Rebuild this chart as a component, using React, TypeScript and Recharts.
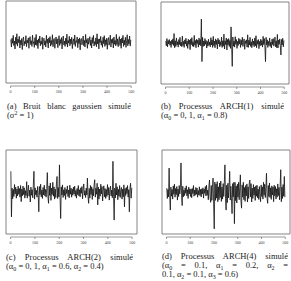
import React from "react";
import { LineChart, Line, XAxis, YAxis, ReferenceArea } from "recharts";

// simulated series, read every 2.5 steps (t = 1, 3.5, 6, ... 498.5)
const whiteNoise = [
  0.8, -1.6, 1.2, -0.4, 2.1, -1.1, 0.3, -2.2, 1.5, -0.7, 2.6, -1.3, 0.9, -0.2, 1.8, -1.9, 0.5, -0.9, 1.1, -2.4,
  0.7, 1.6, -1.2, 0.2, -0.6, 2.0, -1.5, 0.6, -0.3, 1.3, -2.0, 0.9, 1.7, -0.8, 0.4, -1.4, 2.2, -0.5, 0.1, -1.7,
  1.4, -0.9, 2.4, -1.1, 0.6, -2.1, 1.0, -0.3, 1.9, -1.2, 0.3, -0.7, 1.5, -2.3, 0.8, 1.2, -1.0, 0.4, -1.6, 2.1,
  -0.4, 0.9, -1.9, 1.3, -0.2, 1.7, -1.3, 0.5, -0.8, 2.3, -1.5, 0.7, 1.1, -2.0, 0.2, 1.6, -0.6, 1.0, -1.8, 0.4,
  2.0, -1.1, 0.8, -0.5, 1.4, -2.2, 0.6, 1.9, -0.9, 0.3, -1.4, 1.2, -0.7, 2.5, -1.6, 0.5, -0.3, 1.8, -1.2, 0.9,
  -0.6, 1.5, -2.1, 0.3, 1.0, -0.8, 2.2, -1.4, 0.4, -0.1, 1.6, -1.8, 0.9, -0.5, 1.3, -2.5, 0.7, 1.1, -0.9, 0.2,
  1.9, -1.2, 0.5, -1.6, 2.4, -0.3, 0.8, -2.0, 1.2, -0.7, 0.3, 1.7, -1.1, 0.6, -1.9, 1.4, -0.4, 2.1, -1.3, 0.1,
  -0.8, 1.3, -1.5, 2.6, -0.6, 0.9, -2.2, 1.0, -0.2, 1.8, -1.0, 0.4, -1.7, 1.5, -0.5, 2.0, -1.4, 0.7, -0.9, 1.2,
  -2.3, 0.6, 1.4, -1.0, 0.2, 2.2, -1.6, 0.8, -0.4, 1.1, -1.9, 1.6, -0.7, 0.5, -1.2, 2.4, -0.8, 1.0, -1.5, 0.3,
  1.7, -1.1, 0.9, -2.0, 1.3, -0.3, 2.1, -1.4, 0.6, -0.9, 1.5, -1.7, 0.4, 2.3, -1.2, 0.8, -0.6, 1.9, -1.3, 0.7,
];

const arch1 = [
  0.6, -0.9, 1.4, -1.2, 0.8, -0.3, 1.1, -0.7, 0.5, -1.4, 0.9, -0.4, 1.3, -0.8, 3.0, -1.5, 0.7, -1.1, 1.6, -0.6,
  0.4, -1.3, 1.1, -0.5, 1.8, -0.9, 0.3, -1.2, 2.2, -0.8, 0.5, -1.4, 1.0, -0.3, 1.5, -1.0, 0.6, -1.7, 1.2, -0.4,
  0.9, -2.1, 1.3, -0.5, 1.7, -1.0, 0.4, -1.2, 2.4, -0.7, 0.8, -1.5, 1.2, -0.2, 0.9, -1.3, 1.6, -0.6, 1.1, -0.9,
  7.6, -5.9, 1.8, -1.1, 0.6, -0.9, 1.4, -0.4, 0.8, -1.6, 0.5, -1.0, 1.2, -0.7, 0.3, -1.2, 1.7, -0.6, 1.0, -1.4,
  2.1, -0.8, 0.6, -1.5, 1.3, -0.5, 0.9, -1.9, 1.5, -0.3, 1.0, -1.2, 0.4, -0.8, 1.9, -1.4, 0.7, -1.0, 2.8, -1.9,
  0.7, -0.5, 1.6, -2.2, 1.1, -0.6, 1.4, -1.1, 0.8, -1.7, 5.1, -1.0, -7.4, 1.9, -1.0, 0.6, -1.3, 2.0, -0.4, 1.1,
  -1.7, 0.5, -0.8, 1.5, -0.3, 1.2, -1.4, 0.9, -0.6, 1.8, -1.1, 0.4, 1.3, -2.0, 0.7, -0.2, 1.0, -1.3, 2.6, -1.4,
  0.9, -0.6, 1.8, -1.1, 0.4, -1.5, 1.3, -0.7, 0.6, -1.2, 1.6, -0.9, 2.3, -1.5, 0.8, -0.4, 1.1, -1.8, 0.5, -0.9,
  1.2, -0.7, 0.8, -1.3, 2.1, -0.5, 1.4, -1.0, -5.9, 1.8, -0.6, 1.0, -1.4, 0.5, -0.8, 1.6, -1.1, 0.3, -1.6, 1.2,
  -0.5, 1.4, -1.0, 0.3, 1.9, -1.2, 0.7, -1.5, 2.7, -1.6, 0.9, -0.4, 1.3, -0.8, -3.8, 1.1, -0.6, 1.5, -1.2, 0.8,
];

const arch2 = [
  6.4, -7.7, 1.2, -2.1, 0.8, -1.4, 2.3, -0.6, 1.5, -1.9, 0.9, -1.2, 1.8, -0.7, 1.1, -1.6, 2.0, -3.0, 0.9, -1.2,
  1.8, -0.8, 1.3, -1.9, 0.4, -1.1, 3.2, -1.9, 0.4, 2.1, -1.3, 0.6, -3.1, 1.5, -1.0, 0.7, -1.8, 2.2, 6.4, -2.2,
  1.3, -0.9, 0.5, -1.6, 1.7, -0.8, -6.1, 1.7, -0.8, 2.4, -1.5, 0.6, -2.0, 1.4, -0.9, 2.1, -1.2, 0.8, -1.6, 1.0,
  6.0, -1.4, -3.5, 1.9, -1.1, 2.8, -2.6, 1.2, -0.8, 3.0, -1.3, 1.6, -2.2, 0.9, -1.7, 2.5, 4.8, -2.0, 1.4, -1.5,
  8.4, -1.8, -8.2, 1.6, -0.9, 2.2, -1.7, 0.7, -1.1, 1.4, -2.3, 0.8, -0.5, 1.9, -1.4, 0.6, -1.8, 2.1, -0.7, 1.2,
  -1.6, 0.9, -1.0, 1.5, -0.6, 1.8, -1.3, 0.5, -1.9, 1.1, -0.8, 2.0, -1.2, 0.7, -1.5, 1.3, -0.4, 1.7, -2.1, 0.9,
  2.5, -1.0, 0.4, -1.7, 1.2, -0.9, 4.3, -1.4, -3.5, 1.1, -1.9, 2.0, -0.8, 1.6, -2.3, 1.0, -1.2, 2.2, 3.8, -1.6,
  1.2, -0.7, 2.7, -4.0, 1.5, -2.2, 0.9, -1.3, 2.4, -0.6, 1.7, -2.8, 0.5, 1.9, -1.5, 1.1, -2.0, 0.8, -1.4, 2.3,
  -0.9, 1.4, -2.5, 0.7, 1.8, -1.2, 0.6, -1.8, 9.5, -1.4, -8.7, 1.2, -1.8, 2.7, -0.9, 1.6, -2.4, 0.8, -1.3, 2.0,
  -1.7, 0.6, 1.4, -2.2, 0.9, -1.5, 2.2, -4.6, 1.1, -1.1, 1.4, -0.5, 2.0, -1.6, 0.7, -6.1, 1.0, 2.7, -1.9, 1.3,
];

const arch4 = [
  1.2, -2.0, 0.8, -1.5, 7.4, -1.0, -5.6, 1.5, -1.3, 0.8, -2.2, 1.9, -0.7, 2.4, -1.6, 1.1, -0.8, 1.7, -2.5, 0.9,
  -1.4, 2.0, -0.6, 1.3, 9.0, -1.2, -4.2, 1.8, -1.5, 0.6, -1.1, 1.3, -0.4, 1.9, -1.2, 0.7, -2.0, 1.5, -0.6, 1.0,
  -1.4, 0.9, -1.8, 1.1, -0.5, 2.0, -1.3, 0.6, -1.0, 1.4, -0.7, 1.2, -1.6, 0.5, -0.9, 1.6, -1.1, 0.8, -1.5, 1.0,
  -0.6, 1.3, -1.9, 0.9, -0.4, 1.7, -1.2, 2.1, -1.0, 0.6, -2.4, 1.8, 3.7, -1.5, -3.2, 2.0, -2.6, 1.4, 4.3, -4.0,
  -11.4, 3.1, -2.6, 2.5, -1.9, 3.2, -3.0, 1.6, -2.4, 2.8, -1.7, 3.4, -2.9, 1.5, -2.2, 2.6, -1.4, 3.0, 8.4, -2.1,
  -5.6, 2.1, -3.3, 2.7, -1.8, 1.9, 6.4, -2.5, 1.8, -2.0, -6.7, 2.6, -1.5, 3.0, -9.8, 3.0, -2.7, 1.8, -3.4, 2.4,
  -1.6, 3.0, -2.4, 1.4, 5.3, -2.9, -5.0, 2.2, -1.6, 3.0, -2.4, 1.4, -2.9, 2.0, -1.2, 2.5, -3.1, 1.6, -2.0, 2.8,
  3.7, -1.5, 2.6, -3.1, 1.2, -2.0, 2.3, -1.0, 1.5, -2.6, 1.9, -1.3, 2.1, -1.8, 0.9, -2.3, 1.7, -1.1, -3.0, 2.2,
  -1.4, 1.6, -2.2, 3.0, -1.0, 2.4, -1.7, 1.2, 5.8, -1.9, -3.5, 2.0, -1.4, 2.8, -1.7, 1.3, -2.3, 1.9, -0.9, 1.5,
  -3.0, 2.1, -1.2, 1.7, -2.2, 1.0, -1.6, 2.5, -1.1, 1.4, -2.4, 1.8, 6.9, -3.0, 1.5, -2.0, 2.3, -1.3, 4.8, -1.6,
];

const xTicks = [0, 100, 200, 300, 400, 500];
const yTicks = [-10, -5, 0, 5, 10];
const xDomain = [-19, 520];
const yDomain = [-13, 13];

const captionA = ["(a) Bruit blanc gaussien simulé", "(σ² = 1)"];
const captionB = ["(b) Processus ARCH(1) simulé", "(α₀ = 0, 1, α₁ = 0.8)"];
const captionC = ["(c) Processus ARCH(2) simulé", "(α₀ = 0, 1, α₁ = 0.6, α₂ = 0.4)"];
const captionD = [
  "(d) Processus ARCH(4) simulé",
  "(α₀ = 0.1, α₁ = 0.2, α₂ =",
  "0.1, α₂ = 0.1, α₃ = 0.6)",
];

const toRows = (vals: number[]) => vals.map((v, i) => ({ t: 1 + 2.5 * i, v }));

const PAD_L = 6;
const PAD_T = 2;
const PAD_R = 2;
const PAD_B = 12;
const axisColor = "#555";

type PanelProps = {
  values: number[];
  left: number; // plot box position on the page
  top: number;
  w: number;
  h: number;
};

const Panel: React.FC<PanelProps> = ({ values, left, top, w, h }) => {
  const data = toRows(values);
  const span = (w * 500) / (xDomain[1] - xDomain[0]);

  const XTick = (props: any) => {
    const { x, y, payload } = props;
    return (
      <g>
        {payload.value === 0 && (
          <line x1={x} x2={x + span} y1={y + 3} y2={y + 3} stroke={axisColor} strokeWidth={0.6} />
        )}
        <line x1={x} x2={x} y1={y + 3} y2={y + 5} stroke={axisColor} strokeWidth={0.6} />
        <text x={x} y={y + 9} textAnchor="middle" dominantBaseline="middle" fontSize={4} fill="#444">
          {payload.value}
        </text>
      </g>
    );
  };

  const YTick = (props: any) => {
    const { x, y, payload } = props;
    return (
      <text
        x={x - 3}
        y={y}
        transform={`rotate(-90 ${x - 3} ${y})`}
        textAnchor="middle"
        fontSize={4}
        fill="#444"
      >
        {payload.value}
      </text>
    );
  };

  return (
    <div style={{ position: "absolute", left: left - PAD_L, top: top - PAD_T }}>
      <LineChart
        width={PAD_L + w + PAD_R}
        height={PAD_T + h + PAD_B}
        data={data}
        margin={{ left: PAD_L, top: PAD_T, right: PAD_R, bottom: 0 }}
      >
        <XAxis
          dataKey="t"
          type="number"
          domain={xDomain}
          ticks={xTicks}
          allowDataOverflow
          height={PAD_B}
          axisLine={false}
          tickLine={false}
          tickSize={0}
          tickMargin={0}
          tick={XTick}
          interval={0}
        />
        <YAxis
          type="number"
          domain={yDomain}
          ticks={yTicks}
          allowDataOverflow
          width={0}
          axisLine={false}
          tickLine={false}
          tickSize={0}
          tickMargin={0}
          tick={YTick}
          interval={0}
        />
        <ReferenceArea
          x1={xDomain[0]}
          x2={xDomain[1]}
          y1={yDomain[0]}
          y2={yDomain[1]}
          fill="none"
          stroke="#666"
          strokeWidth={0.8}
          ifOverflow="visible"
        />
        <Line
          dataKey="v"
          stroke="#111"
          strokeWidth={0.8}
          dot={false}
          isAnimationActive={false}
        />
      </LineChart>
    </div>
  );
};

// turn unicode sub/superscript digits into real <sub>/<sup> text
const subMap: Record<string, string> = { "₀": "0", "₁": "1", "₂": "2", "₃": "3" };
const renderLine = (s: string) =>
  Array.from(s).map((ch, i) => {
    if (subMap[ch])
      return (
        <span key={i} style={{ fontSize: "0.7em", position: "relative", top: 1.5 }}>
          {subMap[ch]}
        </span>
      );
    if (ch === "²")
      return (
        <span key={i} style={{ fontSize: "0.7em", position: "relative", top: -3 }}>
          2
        </span>
      );
    return ch;
  });

const Caption: React.FC<{ lines: string[]; left: number; top: number; width: number }> = ({
  lines,
  left,
  top,
  width,
}) => (
  <div
    style={{
      position: "absolute",
      left,
      top,
      width,
      fontFamily: "'Liberation Serif', serif",
      fontSize: 8.5,
      lineHeight: "9px",
      color: "#222",
    }}
  >
    {lines.map((l, i) => (
      <div
        key={i}
        style={{
          height: 9,
          textAlign: i < lines.length - 1 ? "justify" : "left",
          textAlignLast: i < lines.length - 1 ? "justify" : "left",
          whiteSpace: "nowrap",
        }}
      >
        {renderLine(l)}
      </div>
    ))}
  </div>
);

export default function App() {
  return (
    <div
      style={{
        position: "absolute",
        left: 0,
        top: 0,
        width: 291,
        height: 281,
        background: "#fff",
        overflow: "hidden",
      }}
    >
      <Panel values={whiteNoise} left={6} top={1} w={130} h={82} />
      <Panel values={arch1} left={161} top={2} w={128} h={82} />
      <Panel values={arch2} left={6} top={150} w={131} h={84} />
      <Panel values={arch4} left={162} top={150} w={128} h={84} />
      <Caption lines={captionA} left={7} top={102} width={124} />
      <Caption lines={captionB} left={161} top={102} width={123} />
      <Caption lines={captionC} left={6} top={253} width={127} />
      <Caption lines={captionD} left={162} top={252} width={126} />
    </div>
  );
}
